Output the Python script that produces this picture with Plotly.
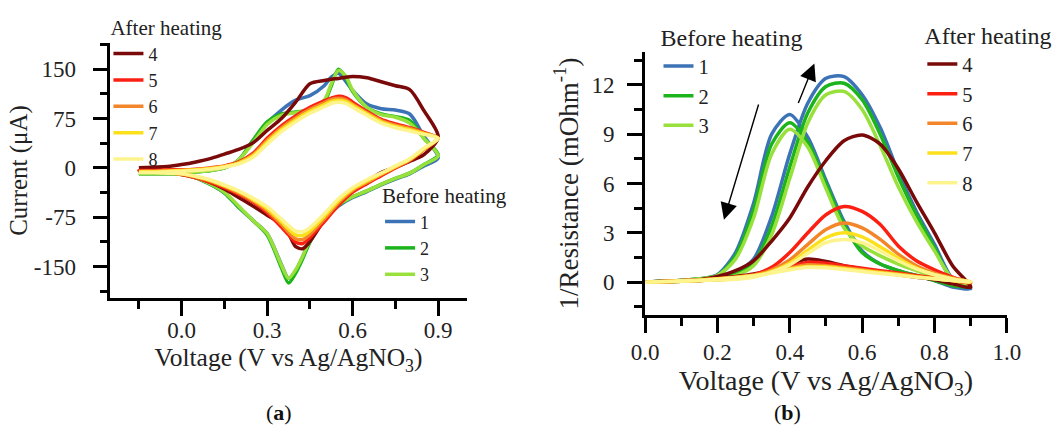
import plotly.graph_objects as go

# ---------------- Panel (a): cyclic voltammograms ----------------
VA_FWD = [-0.15, -0.10, -0.05, 0.00, 0.05, 0.10, 0.15, 0.20, 0.25, 0.30, 0.35, 0.40,
          0.45, 0.50, 0.525, 0.55, 0.575, 0.60, 0.65, 0.70, 0.75, 0.80, 0.85, 0.90]
VA_REV = [0.85, 0.80, 0.75, 0.70, 0.65, 0.60, 0.55, 0.50, 0.45, 0.425, 0.40, 0.375,
          0.35, 0.30, 0.25, 0.20, 0.15, 0.10, 0.05, 0.00, -0.05, -0.10, -0.15]

cv1_fwd = [-9, -9, -9, -8, -6, -4, 0, 12, 40, 68, 88, 103, 110, 125, 138, 144, 132, 118, 97, 90, 88, 82, 48, 15]
cv1_rev = [3, -9, -17, -26, -36, -45, -58, -78, -112, -135, -157, -168, -147, -100, -80, -60, -38, -25, -15, -10, -9, -9, -9]
cv2_fwd = [-9, -9, -9, -8, -6, -4, 0, 12, 42, 70, 82, 85, 88, 100, 125, 150, 138, 116, 92, 82, 78, 72, 45, 20]
cv2_rev = [5, -8, -16, -25, -35, -44, -57, -78, -113, -138, -160, -175, -152, -102, -80, -60, -38, -25, -15, -10, -9, -9, -9]
cv3_fwd = [-9, -9, -9, -8, -6, -4, 0, 12, 38, 66, 80, 84, 88, 103, 128, 148, 140, 118, 92, 81, 77, 68, 45, 18]
cv3_rev = [5, -8, -16, -25, -35, -44, -56, -76, -110, -134, -155, -168, -148, -100, -80, -58, -37, -24, -15, -10, -9, -9, -9]
cv4_fwd = [0, 1, 2, 5, 9, 14, 21, 28, 38, 57, 75, 100, 128, 133, 135, 136, 138, 139, 137, 131, 125, 119, 87, 47]
cv4_rev = [20, 10, 1, -7, -20, -35, -55, -80, -112, -123, -120, -100, -86, -72, -58, -45, -32, -22, -14, -8, -5, -3, -2]
cv5_fwd = [-4, -4, -3, -3, -2, 0, 3, 9, 22, 45, 64, 79, 92, 102, 106, 109, 107, 100, 86, 74, 67, 61, 54, 45]
cv5_rev = [28, 11, 0, -12, -24, -37, -57, -82, -106, -115, -113, -102, -90, -68, -52, -40, -30, -22, -15, -10, -7, -5, -4]
cv6_fwd = [-5, -5, -4, -4, -3, -1, 2, 8, 20, 42, 61, 76, 89, 99, 104, 106, 104, 97, 84, 72, 65, 60, 53, 45]
cv6_rev = [28, 12, 1, -10, -22, -34, -53, -78, -101, -109, -108, -98, -86, -65, -50, -38, -28, -20, -14, -9, -7, -5, -5]
cv7_fwd = [-6, -6, -5, -4, -3, -1, 2, 7, 18, 39, 58, 73, 86, 96, 101, 103, 101, 95, 82, 70, 63, 58, 52, 45]
cv7_rev = [29, 13, 2, -9, -20, -32, -50, -74, -96, -103, -102, -93, -82, -62, -48, -36, -27, -19, -13, -9, -7, -6, -6]
cv8_fwd = [-7, -7, -6, -5, -4, -2, 1, 6, 16, 36, 55, 70, 83, 93, 98, 100, 98, 92, 80, 68, 61, 56, 51, 45]
cv8_rev = [30, 14, 3, -8, -18, -30, -47, -70, -91, -97, -96, -88, -78, -59, -46, -35, -26, -18, -13, -9, -8, -7, -7]

CURRENT_TICKS = [-150, -75, 0, 75, 150]
CURRENT_TICKTEXT = ["-150", "-75", "0", "75", "150"]

# ---------------- Panel (b): 1/Resistance ----------------
VB_FWD = [0.00, 0.05, 0.10, 0.15, 0.20, 0.25, 0.30, 0.35, 0.40, 0.45, 0.50, 0.55,
          0.60, 0.65, 0.70, 0.75, 0.80, 0.85, 0.90]
VB_REV = [0.85, 0.80, 0.75, 0.70, 0.65, 0.60, 0.55, 0.50, 0.45, 0.40, 0.35, 0.30,
          0.25, 0.20, 0.15, 0.10, 0.05, 0.00]

r1_fwd = [0, 0.02, 0.05, 0.1, 0.25, 0.6, 1.4, 4.0, 7.8, 10.9, 12.4, 12.5, 11.4, 9.4, 6.7, 4.3, 2.3, 0.2, -0.4]
r1_rev = [-0.3, 0.1, 0.4, 0.7, 1.1, 1.9, 3.7, 6.2, 8.8, 10.2, 9.0, 4.8, 1.8, 0.45, 0.2, 0.1, 0.05, 0.0]
r2_fwd = [0, 0.02, 0.05, 0.1, 0.2, 0.5, 1.2, 3.4, 7.0, 10.3, 11.9, 12.1, 11.1, 9.0, 6.4, 4.1, 2.1, 0.1, -0.3]
r2_rev = [-0.2, 0.1, 0.4, 0.7, 1.1, 1.8, 3.5, 6.0, 8.5, 9.7, 8.4, 4.4, 1.6, 0.4, 0.2, 0.1, 0.05, 0.0]
r3_fwd = [0, 0.02, 0.05, 0.1, 0.2, 0.4, 1.0, 2.9, 6.3, 9.7, 11.4, 11.6, 10.5, 8.3, 5.8, 3.7, 1.9, 0.2, -0.2]
r3_rev = [-0.1, 0.3, 0.7, 1.1, 1.6, 2.2, 3.3, 5.7, 8.2, 9.3, 7.8, 3.9, 1.4, 0.4, 0.2, 0.1, 0.05, 0.0]
r4_fwd = [0, 0.02, 0.07, 0.15, 0.35, 0.7, 1.3, 2.5, 3.9, 5.8, 7.4, 8.6, 8.95, 8.4, 6.9, 4.9, 3.0, 1.0, -0.3]
r4_rev = [-0.1, 0.15, 0.3, 0.45, 0.6, 0.8, 1.0, 1.25, 1.4, 1.1, 0.75, 0.5, 0.35, 0.25, 0.15, 0.1, 0.05, 0.0]
r5_fwd = [0, 0.02, 0.05, 0.1, 0.15, 0.25, 0.45, 0.9, 1.8, 3.0, 4.1, 4.6, 4.3, 3.5, 2.2, 1.3, 0.75, 0.3, -0.05]
r5_rev = [0.1, 0.25, 0.4, 0.55, 0.7, 0.85, 1.0, 1.15, 1.2, 0.95, 0.65, 0.45, 0.3, 0.2, 0.12, 0.08, 0.04, 0.0]
r6_fwd = [0, 0.02, 0.05, 0.1, 0.15, 0.22, 0.4, 0.75, 1.35, 2.3, 3.2, 3.6, 3.3, 2.6, 1.7, 1.0, 0.55, 0.25, 0.0]
r6_rev = [0.1, 0.22, 0.35, 0.5, 0.62, 0.75, 0.88, 1.0, 1.05, 0.85, 0.6, 0.42, 0.3, 0.2, 0.12, 0.08, 0.04, 0.0]
r7_fwd = [0, 0.02, 0.05, 0.1, 0.14, 0.2, 0.35, 0.65, 1.15, 1.95, 2.7, 3.0, 2.75, 2.15, 1.45, 0.85, 0.45, 0.2, 0.0]
r7_rev = [0.1, 0.2, 0.32, 0.45, 0.57, 0.7, 0.82, 0.93, 0.95, 0.8, 0.58, 0.4, 0.28, 0.2, 0.12, 0.08, 0.04, 0.0]
r8_fwd = [0, 0.02, 0.05, 0.1, 0.13, 0.18, 0.3, 0.6, 1.05, 1.75, 2.4, 2.6, 2.4, 1.9, 1.3, 0.8, 0.45, 0.2, 0.0]
r8_rev = [0.1, 0.2, 0.3, 0.42, 0.53, 0.65, 0.77, 0.87, 0.9, 0.75, 0.55, 0.38, 0.27, 0.18, 0.12, 0.08, 0.04, 0.0]

LABELS = ["1", "2", "3", "4", "5", "6", "7", "8"]
COLORS = ["#3b73b6", "#1cb41c", "#98e03c", "#7a0a0a", "#fb2012", "#f3862a", "#fde01c", "#fdf48e"]

CV_FWD = [cv1_fwd, cv2_fwd, cv3_fwd, cv4_fwd, cv5_fwd, cv6_fwd, cv7_fwd, cv8_fwd]
CV_REV = [cv1_rev, cv2_rev, cv3_rev, cv4_rev, cv5_rev, cv6_rev, cv7_rev, cv8_rev]
R_FWD = [r1_fwd, r2_fwd, r3_fwd, r4_fwd, r5_fwd, r6_fwd, r7_fwd, r8_fwd]
R_REV = [r1_rev, r2_rev, r3_rev, r4_rev, r5_rev, r6_rev, r7_rev, r8_rev]

FONT = "Liberation Serif"
TXT = "#222"
W, H = 1059, 439

fig = go.Figure()

for i in range(8):
    before = i < 3
    fig.add_trace(go.Scatter(
        x=VA_FWD + VA_REV, y=CV_FWD[i] + CV_REV[i],
        mode="lines", name=LABELS[i],
        line=dict(color=COLORS[i], width=3.5, shape="spline", smoothing=0.8),
        xaxis="x", yaxis="y",
        legend="legend2" if before else "legend",
    ))

for i in range(8):
    before = i < 3
    fig.add_trace(go.Scatter(
        x=VB_FWD + VB_REV, y=R_FWD[i] + R_REV[i],
        mode="lines", name=LABELS[i],
        line=dict(color=COLORS[i], width=3.5, shape="spline", smoothing=0.8),
        xaxis="x2", yaxis="y2",
        legend="legend3" if before else "legend4",
    ))

axis_common = dict(
    showline=True, linecolor="black", linewidth=2.5, mirror=False,
    ticks="outside", ticklen=15, tickwidth=2.5, tickcolor="black",
    showgrid=False, zeroline=False,
    tickfont=dict(family=FONT, size=23, color=TXT),
)
minor_common = dict(ticks="outside", ticklen=8, tickwidth=2.5, tickcolor="black", tick0=0)

def legend_box(x, y, title, size, tsize):
    return dict(
        x=x, y=y, xanchor="left", yanchor="top",
        title=dict(text=title, font=dict(family=FONT, size=tsize, color=TXT)),
        font=dict(family=FONT, size=size, color=TXT),
        bgcolor="rgba(0,0,0,0)", borderwidth=0, tracegroupgap=0,
    )

fig.update_layout(
    width=W, height=H,
    margin=dict(l=0, r=0, t=0, b=0),
    paper_bgcolor="white", plot_bgcolor="white",
    showlegend=True,
    xaxis=dict(
        **axis_common, domain=[99 / W, 465 / W], range=[-0.25, 1.0], anchor="y",
        tick0=0, dtick=0.3, tickformat=".1f", ticklabelstandoff=-5,
        minor=dict(**minor_common, dtick=0.15),
        title=dict(text="Voltage (V vs Ag/AgNO<sub>3</sub>)", font=dict(family=FONT, size=25.5, color=TXT), standoff=2),
    ),
    yaxis=dict(
        **axis_common, domain=[(H - 298) / H, (H - 43) / H], range=[-198, 190], anchor="x",
        tickmode="array", tickvals=CURRENT_TICKS, ticktext=CURRENT_TICKTEXT, ticklabelstandoff=12,
        minor=dict(**minor_common, dtick=37.5),
        title=dict(text="Current (μA)", font=dict(family=FONT, size=25, color=TXT), standoff=0),
    ),
    xaxis2=dict(
        **axis_common, domain=[648 / W, 1020 / W], range=[-0.0005, 1.0005], anchor="y2",
        tick0=0, dtick=0.2, tickformat=".1f",
        minor=dict(**minor_common, dtick=0.1),
        title=dict(text="Voltage (V vs Ag/AgNO<sub>3</sub>)", font=dict(family=FONT, size=28, color=TXT), standoff=0),
    ),
    yaxis2=dict(
        **axis_common, domain=[(H - 315) / H, (H - 52) / H], range=[-2, 14], anchor="x2",
        tick0=0, dtick=3, ticklabelstandoff=8,
        minor=dict(**minor_common, dtick=1.5),
        title=dict(text="1/Resistance (mOhm<sup>-1</sup>)", font=dict(family=FONT, size=27, color=TXT), standoff=6),
    ),
    legend=legend_box(97 / W, 1 - 8 / H, "After heating", 18, 21),
    legend2=legend_box(376 / W, 1 - 176 / H, "Before heating", 18, 21),
    legend3=legend_box(662 / W, 1 - 15 / H, "Before heating", 20.5, 24),
    legend4=legend_box(933 / W, 1 - 13 / H, "After heating", 20.5, 24),
)

# Arrows in panel (b)
fig.add_annotation(xref="x2", yref="y2", axref="x2", ayref="y2",
                   x=0.218, y=3.8, ax=0.315, ay=10.9, text="", showarrow=True,
                   arrowhead=2, arrowsize=2.4, arrowwidth=1.4, arrowcolor="black")
fig.add_annotation(xref="x2", yref="y2", axref="x2", ayref="y2",
                   x=0.468, y=13.3, ax=0.422, ay=10.8, text="", showarrow=True,
                   arrowhead=2, arrowsize=2.4, arrowwidth=1.4, arrowcolor="black")

# Panel labels
fig.add_annotation(xref="paper", yref="paper", x=257 / W, y=1 - 427 / H, text="(<b>a</b>)",
                   showarrow=False, font=dict(family=FONT, size=22, color="#111"))
fig.add_annotation(xref="paper", yref="paper", x=810 / W, y=1 - 427 / H, text="(<b>b</b>)",
                   showarrow=False, font=dict(family=FONT, size=22, color="#111"))

fig.write_html("out.html")
